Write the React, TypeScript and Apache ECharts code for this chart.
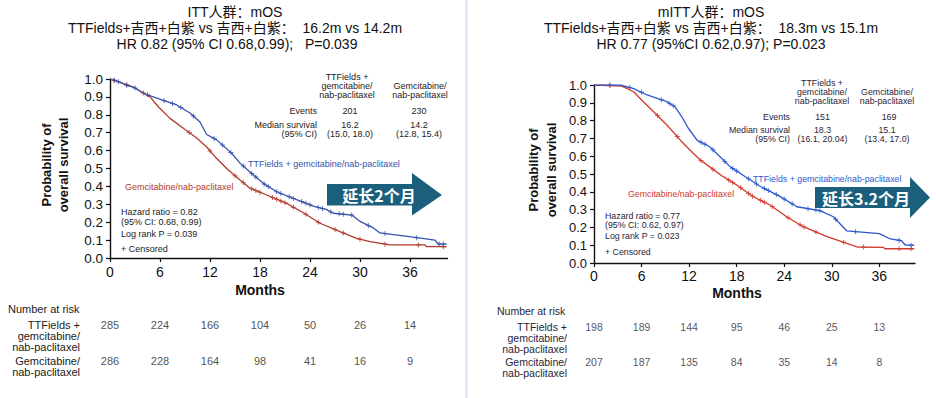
import React, { useEffect, useRef } from "react";
import * as echarts from "echarts";

// ---------- data ----------
const months = [0, 6, 12, 18, 24, 30, 36];
const yTicks = [0, 0.1, 0.2, 0.3, 0.4, 0.5, 0.6, 0.7, 0.8, 0.9, 1.0];

// ITT Kaplan–Meier curves [month, survival]
const ittTTF = [
  [0, 1.0], [1, 0.985], [2, 0.965], [2.8, 0.955], [4, 0.92], [5.8, 0.89], [8, 0.855], [9.6, 0.81],
  [10.8, 0.76], [11.6, 0.69], [12.8, 0.66], [14.6, 0.585], [15.6, 0.53], [16.8, 0.48], [18.4, 0.417],
  [20, 0.37], [22, 0.333], [24.4, 0.29], [26, 0.27], [26.8, 0.25], [29, 0.24], [30, 0.205],
  [31.6, 0.168], [32.4, 0.14], [36.6, 0.115], [39, 0.1], [39.4, 0.078], [40.4, 0.078],
];
const ittGem = [
  [0, 1.0], [1, 0.985], [2.8, 0.955], [4.8, 0.9], [5.8, 0.845], [7.2, 0.78], [8.8, 0.725],
  [10.4, 0.67], [11.6, 0.62], [12.6, 0.566], [14, 0.5], [15.6, 0.436], [16.8, 0.39], [18.8, 0.352],
  [21.2, 0.305], [23.2, 0.253], [25.2, 0.194], [27.6, 0.147], [29.6, 0.11], [31.2, 0.091],
  [33.6, 0.073], [37.8, 0.073], [38, 0.063], [40.4, 0.063],
];
// mITT curves
const mittTTF = [
  [0, 1.0], [3.3, 1.0], [5, 0.98], [6.7, 0.944], [9.2, 0.906], [10.2, 0.878], [11.1, 0.82],
  [11.9, 0.757], [13, 0.69], [14.6, 0.653], [15.9, 0.597], [17.2, 0.54], [19.1, 0.485], [21, 0.43],
  [23.5, 0.373], [25.6, 0.316], [28.5, 0.294], [30.2, 0.26], [31.9, 0.18], [36, 0.165],
  [37.4, 0.135], [38.8, 0.125], [39.3, 0.1], [40.4, 0.1],
];
const mittGem = [
  [0, 1.0], [3.5, 0.994], [5, 0.962], [6, 0.916], [7.3, 0.86], [9.2, 0.775], [10.9, 0.69],
  [12.1, 0.635], [13.4, 0.579], [14.6, 0.54], [16.3, 0.485], [18, 0.438], [20.1, 0.372],
  [22.2, 0.326], [24.3, 0.26], [26.4, 0.204], [29.4, 0.148], [31.9, 0.11], [33.2, 0.09],
  [36.5, 0.088], [36.7, 0.08], [40.4, 0.08],
];

// censoring times (months)
const ittCensorTTF = [0.5, 1, 2, 3, 4.5, 6.5, 7.5, 8.5, 10, 12.5, 13.5, 14.5, 16, 17, 17.5, 18.5, 19, 20, 20.5, 21.5, 22, 23, 23.5, 24, 25, 25.5, 26.5, 27.5, 28, 29, 31, 33, 36.8, 39.5, 40];
const ittCensorGem = [0.5, 2, 4, 9.5, 12, 15, 16, 17, 17.5, 18, 19.5, 20, 20.5, 21, 22, 23.5, 25, 27, 28, 30, 33, 37, 40];
const mittCensorTTF = [2, 4.5, 6, 8.5, 9.5, 10, 13.5, 14, 15, 16.5, 17.5, 18, 19.5, 20.5, 21.5, 22, 23, 24, 25, 27, 28, 28.5, 30.5, 33, 38.5, 40];
const mittCensorGem = [2, 8, 10.5, 13.5, 15, 17, 17.5, 18.5, 19.5, 20, 21, 21.5, 22.5, 24.5, 26, 26.5, 28, 31.5, 34, 38.5, 40];

// numbers at risk
const ittRiskTTF = [285, 224, 166, 104, 50, 26, 14];
const ittRiskGem = [286, 228, 164, 98, 41, 16, 9];
const mittRiskTTF = [198, 189, 144, 95, 46, 25, 13];
const mittRiskGem = [207, 187, 135, 84, 35, 14, 8];

// ---------- helpers ----------
const FF = "'Liberation Sans', Arial, 'Noto Sans CJK SC', sans-serif";
const CJK = "'Noto Sans CJK SC', 'Liberation Sans', sans-serif";
const CROSS = "path://M4,0h2v4h4v2h-4v4h-2v-4h-4v-2h4z";

function survAt(curve: number[][], t: number): number {
  for (let i = 1; i < curve.length; i++) {
    const [x0, y0] = curve[i - 1];
    const [x1, y1] = curve[i];
    if (t <= x1) {
      if (x1 === x0) return y1;
      return y0 + ((t - x0) / (x1 - x0)) * (y1 - y0);
    }
  }
  return curve[curve.length - 1][1];
}

function T(x: number, y: number, text: string, o: any = {}) {
  return {
    type: "text",
    x,
    y,
    rotation: o.rotation || 0,
    silent: true,
    style: {
      text,
      fontSize: o.size || 9,
      fontWeight: o.weight || "normal",
      fontFamily: o.family || FF,
      fill: o.color || "#222",
      align: o.align || "left",
      verticalAlign: "middle",
      lineHeight: o.lh,
    },
  };
}

const BLUE_L = "#3653ad";
const RED_L = "#b23a2f";
const BLUE_R = "#2c57cf";
const RED_R = "#d0392c";
const ARROW = "#1c5f7d";

function axesFor(gi: number, labelMargin: number, ySize: number) {
  const x = {
    gridIndex: gi,
    type: "value",
    min: 0,
    max: 40.5,
    interval: 6,
    splitLine: { show: false },
    axisLine: { show: true, onZero: false, lineStyle: { color: "#111", width: 1.4 } },
    axisTick: { show: true, length: 4, customValues: months, lineStyle: { color: "#111", width: 1.2 } },
    axisLabel: { customValues: months, fontSize: 14, color: "#111", margin: labelMargin, fontFamily: FF },
  };
  const y = {
    gridIndex: gi,
    type: "value",
    min: 0,
    max: 1,
    interval: 0.1,
    splitLine: { show: false },
    axisLine: { show: true, onZero: false, lineStyle: { color: "#111", width: 1.4 } },
    axisTick: { show: true, length: 4, customValues: yTicks, lineStyle: { color: "#111", width: 1.2 } },
    axisLabel: {
      customValues: yTicks,
      fontSize: ySize,
      color: "#111",
      margin: 7,
      fontFamily: FF,
      formatter: (v: number) => v.toFixed(1),
    },
  };
  return { x, y };
}

function curveSeries(gi: number, data: number[][], color: string, width: number) {
  return {
    type: "line",
    xAxisIndex: gi,
    yAxisIndex: gi,
    data,
    symbol: "none",
    lineStyle: { color, width },
    silent: true,
    z: 3,
  };
}

function censorSeries(gi: number, curve: number[][], times: number[], color: string) {
  return {
    type: "scatter",
    xAxisIndex: gi,
    yAxisIndex: gi,
    data: times.map((t) => [t, survAt(curve, t)]),
    symbol: CROSS,
    symbolSize: 5,
    itemStyle: { color },
    silent: true,
    z: 4,
  };
}

function riskSeries(gi: number, row: number, values: number[], size: number, color: string) {
  return {
    type: "scatter",
    xAxisIndex: gi,
    yAxisIndex: gi,
    data: values.map((v, i) => [months[i], row, v]),
    symbolSize: 1,
    itemStyle: { color: "rgba(0,0,0,0)" },
    label: {
      show: true,
      position: "inside",
      formatter: (p: any) => String(p.value[2]),
      fontSize: size,
      color,
      fontFamily: FF,
    },
    silent: true,
  };
}

function riskAxes(gi: number) {
  return {
    x: { gridIndex: gi, type: "value", min: 0, max: 40.5, show: false },
    y: { gridIndex: gi, type: "category", data: ["TTFields", "Gem"], inverse: true, show: false },
  };
}

export default function App() {
  const ref = useRef<HTMLDivElement>(null);

  useEffect(() => {
    if (!ref.current) return;
    const chart = echarts.init(ref.current, undefined, { renderer: "svg" });

    const a0 = axesFor(0, 7, 13.5);
    const a1 = axesFor(1, 6, 13);
    const r2 = riskAxes(2);
    const r3 = riskAxes(3);

    const graphics: any[] = [
      {
        type: "line",
        silent: true,
        shape: { x1: 466.5, y1: 0, x2: 466.5, y2: 398 },
        style: { stroke: "#dbe4f3", lineWidth: 2 },
      },
      T(235, 12, "ITT人群：mOS", { size: 14, align: "center", color: "#111" }),
      T(235, 28, "TTFields+吉西+白紫 vs 吉西+白紫：  16.2m vs 14.2m", { size: 14, align: "center", color: "#111" }),
      T(237, 44, "HR 0.82 (95% CI 0.68,0.99);   P=0.039", { size: 14, align: "center", color: "#111" }),
      T(711, 12, "mITT人群：mOS", { size: 14, align: "center", color: "#111" }),
      T(711, 28, "TTFields+吉西+白紫 vs 吉西+白紫：  18.3m vs 15.1m", { size: 14, align: "center", color: "#111" }),
      T(711, 44, "HR 0.77 (95%CI 0.62,0.97); P=0.023", { size: 14, align: "center", color: "#111" }),

      T(55, 165, "Probability of\noverall survival", { size: 13, weight: "bold", align: "center", rotation: Math.PI / 2, lh: 17, color: "#111" }),
      T(542, 170, "Probability of\noverall survival", { size: 13, weight: "bold", align: "center", rotation: Math.PI / 2, lh: 18, color: "#111" }),
      T(260, 290, "Months", { size: 14, weight: "bold", align: "center", color: "#111" }),
      T(737, 293, "Months", { size: 14, weight: "bold", align: "center", color: "#111" }),

      T(347, 77, "TTFields +", { size: 9, align: "center" }),
      T(347, 86, "gemcitabine/", { size: 9, align: "center" }),
      T(347, 94.5, "nab-paclitaxel", { size: 9, align: "center" }),
      T(420, 86, "Gemcitabine/", { size: 9, align: "center" }),
      T(420, 94.5, "nab-paclitaxel", { size: 9, align: "center" }),
      T(317, 111, "Events", { size: 9, align: "right" }),
      T(350, 111, "201", { size: 9, align: "center" }),
      T(419, 111, "230", { size: 9, align: "center" }),
      T(317, 125, "Median survival", { size: 9, align: "right" }),
      T(317, 133.5, "(95% CI)", { size: 9, align: "right" }),
      T(350, 125, "16.2", { size: 9, align: "center" }),
      T(350, 133.5, "(15.0, 18.0)", { size: 9, align: "center" }),
      T(419, 125, "14.2", { size: 9, align: "center" }),
      T(419, 133.5, "(12.8, 15.4)", { size: 9, align: "center" }),
      T(248, 164, "TTFields + gemcitabine/nab-paclitaxel", { size: 9, color: BLUE_L }),
      T(125, 187, "Gemcitabine/nab-paclitaxel", { size: 9, color: RED_L }),
      T(121, 212, "Hazard ratio = 0.82", { size: 9 }),
      T(121, 221.5, "(95% CI: 0.68, 0.99)", { size: 9 }),
      T(121, 233.5, "Log rank P = 0.039", { size: 9 }),
      T(121, 248.5, "+ Censored", { size: 9 }),

      T(822, 83, "TTFields +", { size: 8.8, align: "center", color: "#2a2438" }),
      T(822, 92, "gemcitabine/", { size: 8.8, align: "center", color: "#2a2438" }),
      T(822, 101, "nab-paclitaxel", { size: 8.8, align: "center", color: "#2a2438" }),
      T(887, 92, "Gemcitabine/", { size: 8.8, align: "center", color: "#2a2438" }),
      T(887, 101, "nab-paclitaxel", { size: 8.8, align: "center", color: "#2a2438" }),
      T(790, 117, "Events", { size: 8.8, align: "right", color: "#2a2438" }),
      T(822.5, 117, "151", { size: 8.8, align: "center", color: "#2a2438" }),
      T(889, 117, "169", { size: 8.8, align: "center", color: "#2a2438" }),
      T(790, 130, "Median survival", { size: 8.8, align: "right", color: "#2a2438" }),
      T(790, 139, "(95% CI)", { size: 8.8, align: "right", color: "#2a2438" }),
      T(822.5, 130, "18.3", { size: 8.8, align: "center", color: "#2a2438" }),
      T(822.5, 139, "(16.1, 20.04)", { size: 8.8, align: "center", color: "#2a2438" }),
      T(887, 130, "15.1", { size: 8.8, align: "center", color: "#2a2438" }),
      T(887, 139, "(13.4, 17.0)", { size: 8.8, align: "center", color: "#2a2438" }),
      T(753, 178.5, "TTFields + gemcitabine/nab-paclitaxel", { size: 8.8, color: BLUE_R }),
      T(628, 194, "Gemcitabine/nab-paclitaxel", { size: 8.8, color: RED_R }),
      T(605, 215.5, "Hazard ratio = 0.77", { size: 8.8, color: "#2a2438" }),
      T(605, 225, "(95% CI: 0.62, 0.97)", { size: 8.8, color: "#2a2438" }),
      T(605, 236, "Log rank P = 0.023", { size: 8.8, color: "#2a2438" }),
      T(605, 251.5, "+ Censored", { size: 8.8, color: "#2a2438" }),

      {
        type: "polygon",
        silent: true,
        z: 10,
        shape: { points: [[327, 184], [412, 184], [412, 173], [442, 195], [412, 215.5], [412, 205.5], [327, 205.5]] },
        style: { fill: ARROW },
      },
      { ...T(379, 195, "延长2个月", { size: 16, weight: "bold", align: "center", color: "#fff", family: CJK }), z: 11 },
      {
        type: "polygon",
        silent: true,
        z: 10,
        shape: { points: [[815, 187], [910, 187], [910, 177], [930, 197.5], [910, 218], [910, 208], [815, 208]] },
        style: { fill: ARROW },
      },
      { ...T(866, 198, "延长3.2个月", { size: 16, weight: "bold", align: "center", color: "#fff", family: CJK }), z: 11 },

      T(8, 309, "Number at risk", { size: 11 }),
      T(80, 325, "TTFields +", { size: 11, align: "right" }),
      T(80, 336, "gemcitabine/", { size: 11, align: "right" }),
      T(80, 347, "nab-paclitaxel", { size: 11, align: "right" }),
      T(80, 361, "Gemcitabine/", { size: 11, align: "right" }),
      T(80, 372, "nab-paclitaxel", { size: 11, align: "right" }),

      T(497, 311, "Number at risk", { size: 10.5, color: "#2a2438" }),
      T(567, 327, "TTFields +", { size: 10.5, align: "right", color: "#2a2438" }),
      T(567, 338, "gemcitabine/", { size: 10.5, align: "right", color: "#2a2438" }),
      T(567, 349, "nab-paclitaxel", { size: 10.5, align: "right", color: "#2a2438" }),
      T(567, 362, "Gemcitabine/", { size: 10.5, align: "right", color: "#2a2438" }),
      T(567, 373, "nab-paclitaxel", { size: 10.5, align: "right", color: "#2a2438" }),
    ];

    chart.setOption({
      animation: false,
      backgroundColor: "#fff",
      textStyle: { fontFamily: FF },
      grid: [
        { left: 110, top: 79, width: 337.5, height: 179 },
        { left: 594, top: 85, width: 321, height: 178 },
        { left: 110, top: 307, width: 337.5, height: 72 },
        { left: 594, top: 309.5, width: 321, height: 70 },
      ],
      xAxis: [a0.x, a1.x, r2.x, r3.x],
      yAxis: [a0.y, a1.y, r2.y, r3.y],
      series: [
        curveSeries(0, ittGem, RED_L, 1.3),
        curveSeries(0, ittTTF, BLUE_L, 1.3),
        censorSeries(0, ittGem, ittCensorGem, RED_L),
        censorSeries(0, ittTTF, ittCensorTTF, BLUE_L),
        curveSeries(1, mittGem, RED_R, 1.3),
        curveSeries(1, mittTTF, BLUE_R, 1.3),
        censorSeries(1, mittGem, mittCensorGem, RED_R),
        censorSeries(1, mittTTF, mittCensorTTF, BLUE_R),
        riskSeries(2, 0, ittRiskTTF, 11, "#222"),
        riskSeries(2, 1, ittRiskGem, 11, "#222"),
        riskSeries(3, 0, mittRiskTTF, 10.5, "#2a2438"),
        riskSeries(3, 1, mittRiskGem, 10.5, "#2a2438"),
      ],
      graphic: graphics,
    });

    return () => chart.dispose();
  }, []);

  return (
    <div
      ref={ref}
      style={{ position: "fixed", left: 0, top: 0, width: 936, height: 398, background: "#fff" }}
    />
  );
}
